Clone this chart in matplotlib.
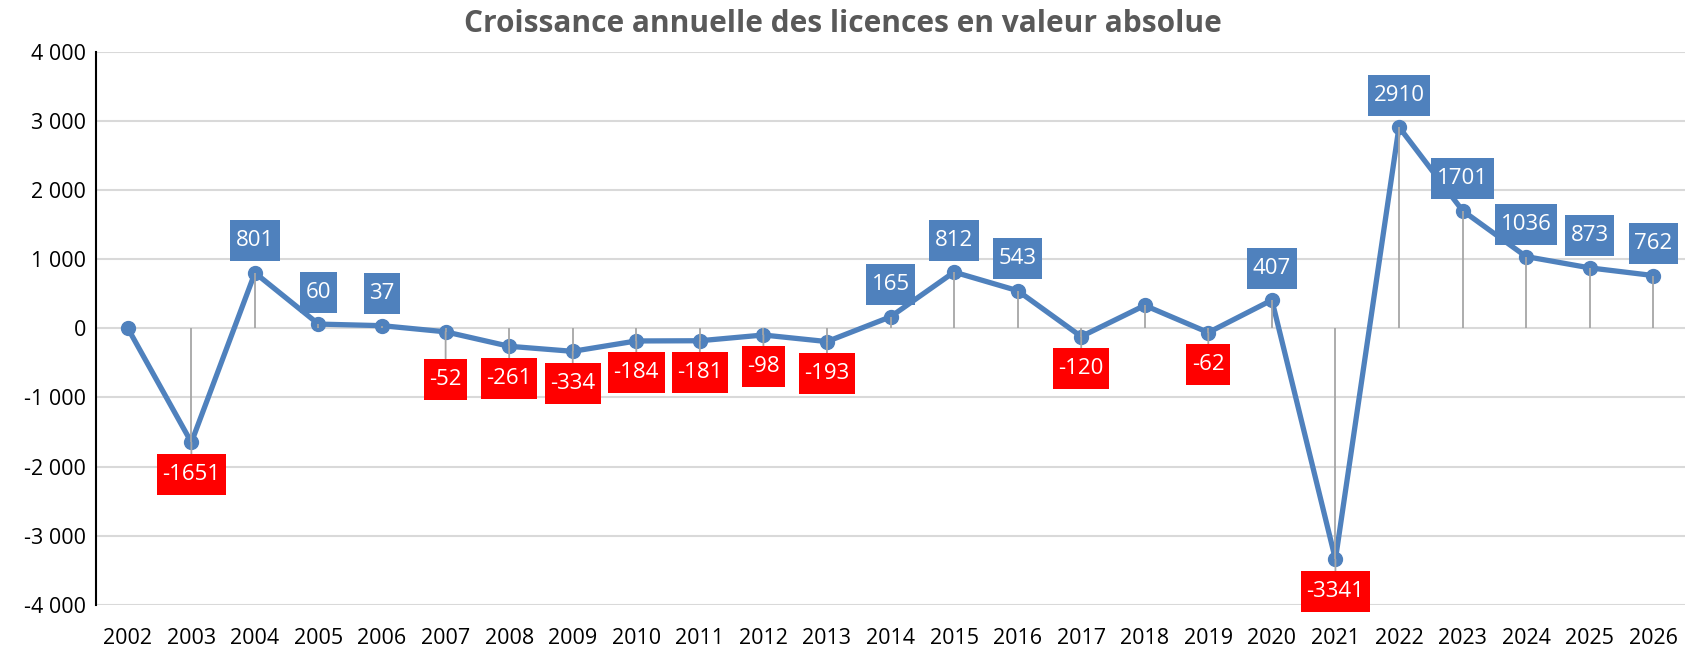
import numpy as np
import matplotlib
matplotlib.use("Agg")
import matplotlib.pyplot as plt
from matplotlib.path import Path

plt.rcParams['font.family'] = ['Open Sans', 'DejaVu Sans']

years = [str(y) for y in range(2002, 2027)]
growth = [0, -1651, 801, 60, 37, -52, -261, -334, -184, -181, -98, -193, 165,
          812, 543, -120, 330, -62, 407, -3341, 2910, 1701, 1036, 873, 762]
# years whose point carries no value label
unlabelled = ['2002', '2018']

blue = '#4F81BD'
red = '#FF0000'
grey = '#A6A6A6'


def label_box(x0, y0, width, height, mutation_size):
    # square box, more padding top/bottom than left/right (like Excel labels)
    px = 0.25 * mutation_size
    py = 0.45 * mutation_size
    x0, x1 = x0 - px, x0 + width + px
    y0, y1 = y0 - py, y0 + height + py
    return Path([(x0, y0), (x1, y0), (x1, y1), (x0, y1), (x0, y0)], closed=True)


fig = plt.figure(figsize=(16.85, 6.49), dpi=100)
ax = fig.add_axes([0.057, 0.068, 0.943, 0.8525])

x = np.arange(len(years))

# drop lines from zero to every point
ax.vlines(x, 0, growth, colors=grey, lw=1.3, zorder=4)
ax.plot(x, growth, color=blue, lw=3.8, marker='o', ms=10, zorder=3)

for i, (yr, v) in enumerate(zip(years, growth)):
    if yr in unlabelled:
        continue
    if v >= 0:
        dy, fc, arrow = 23, blue, None
    else:
        dy = -34 if yr == '2007' else -23
        fc, arrow = red, dict(arrowstyle='-', color=grey, lw=1.3,
                              shrinkA=0, shrinkB=0)
    ax.annotate(str(v), (i, v), xytext=(0, dy), textcoords='offset points',
                ha='center', va='center', color='white', fontsize=16,
                bbox=dict(boxstyle=label_box, fc=fc, ec='none'),
                arrowprops=arrow, zorder=5)

ax.set_xlim(-0.5, len(years) - 0.5)
ax.set_ylim(-4000, 4000)
ax.set_yticks(range(-4000, 4001, 1000))
ax.set_yticklabels([f"{t:,}".replace(',', ' ') for t in range(-4000, 4001, 1000)])
ax.set_xticks(x)
ax.set_xticklabels(years)
ax.tick_params(axis='both', length=0, labelsize=15.5, colors='black')
ax.tick_params(axis='y', pad=7)
ax.tick_params(axis='x', pad=17)

ax.grid(axis='y', color='#D9D9D9', lw=1.5, zorder=0)
ax.set_axisbelow(True)
for s in ['top', 'right', 'bottom']:
    ax.spines[s].set_visible(False)
ax.spines['left'].set_linewidth(1.5)

fig.text(0.5, 0.963, 'Croissance annuelle des licences en valeur absolue',
         ha='center', va='center', fontsize=21.5, fontweight='bold',
         color='#595959')

fig.savefig('out.png', dpi=100)
